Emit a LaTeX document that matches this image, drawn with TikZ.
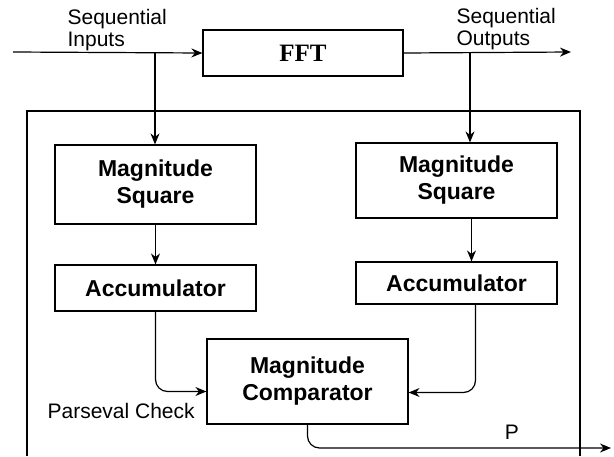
\documentclass[tikz,border=0pt]{standalone}
\usepackage{fontspec}
\setmainfont{Liberation Sans}
\newfontfamily\fftfont{Liberation Serif}
\usetikzlibrary{arrows.meta}

\begin{document}
\begin{tikzpicture}[x=1pt, y=-1pt, line width=1.2pt,
  >={Stealth[length=11pt, width=9pt]},
  block/.style={draw, align=center, inner sep=0pt, minimum width=201pt,
    font=\fontsize{23}{27}\selectfont\bfseries},
  lbl/.style={align=left, inner sep=0pt, font=\fontsize{21}{21.5}\selectfont}]

\useasboundingbox (0,0) rectangle (614,456);

% FFT
\node[block, minimum width=200pt, minimum height=46pt,
  font=\fftfont\fontsize{25}{27}\selectfont\bfseries] (fft) at (303,53) {FFT};
\coordinate (in) at (13,52);
\coordinate (out) at (571,52);
\coordinate (bL) at (155,52);
\coordinate (bR) at (470,52);
\node[lbl, anchor=south west] (seqin) at (67,51) {Sequential\\Inputs};
\node[lbl, anchor=south west] (seqout) at (456,50) {Sequential\\Outputs};
\draw[->] (in) -- (fft.west);
\draw[->] (fft.east) -- (out);

% Parseval check
\draw (27,456) -- (27,111) -- (580,111) -- (580,456);
\node[lbl, anchor=west] (check) at (47,411) {Parseval Check};

% Input branch
\node[block, minimum height=79pt] (msqL) at (155.5,184.5) {Magnitude\\Square};
\node[block, minimum height=46pt] (accL) at (155.5,288) {Accumulator};
\draw[->] (bL) -- (bL |- msqL.north);
\draw[->] (msqL) -- (accL);

% Output branch
\node[block, minimum height=75pt] (msqR) at (456.5,180.5) {Magnitude\\Square};
\node[block, minimum height=42pt] (accR) at (456.5,283) {Accumulator};
\draw[->] (bR) -- (bR |- msqR.north);
\draw[->] ([xshift=15pt]msqR.south) -- ([xshift=15pt]accR.north);

% Comparator
\node[block, minimum height=85pt] (cmp) at (307.5,381.5) {Magnitude\\Comparator};
\coordinate (pout) at (611,448);
\draw[->, rounded corners=12pt] (accL.south) |- ([yshift=-10pt]cmp.west);
\draw[->, rounded corners=12pt] ([xshift=19pt]accR.south) |- ([yshift=-11pt]cmp.east);
\draw[->, rounded corners=12pt] (cmp.south) |- (pout);
\node[lbl] (p) at (512,432) {P};

\end{tikzpicture}
\end{document}
